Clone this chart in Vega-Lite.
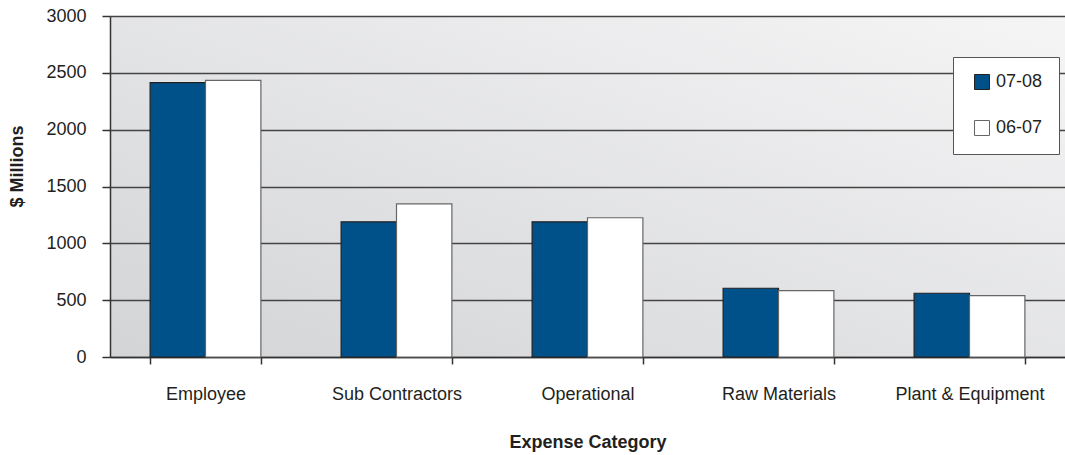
{
  "$schema": "https://vega.github.io/schema/vega-lite/v6.json",
  "width": 955,
  "height": 341,
  "autosize": {"type": "none"},
  "padding": {"left": 110, "top": 16, "right": 0, "bottom": 98},
  "background": "#ffffff",
  "data": {
    "values": [
      {"category": "Employee", "year": "07-08", "amount": 2413},
      {"category": "Employee", "year": "06-07", "amount": 2434},
      {"category": "Sub Contractors", "year": "07-08", "amount": 1189},
      {"category": "Sub Contractors", "year": "06-07", "amount": 1348},
      {"category": "Operational", "year": "07-08", "amount": 1189},
      {"category": "Operational", "year": "06-07", "amount": 1225},
      {"category": "Raw Materials", "year": "07-08", "amount": 605},
      {"category": "Raw Materials", "year": "06-07", "amount": 584},
      {"category": "Plant & Equipment", "year": "07-08", "amount": 561},
      {"category": "Plant & Equipment", "year": "06-07", "amount": 540}
    ]
  },
  "mark": {"type": "bar", "strokeWidth": 1.2},
  "encoding": {
    "x": {
      "field": "category",
      "type": "nominal",
      "sort": ["Employee", "Sub Contractors", "Operational", "Raw Materials", "Plant & Equipment"],
      "scale": {"paddingInner": 0.42, "paddingOuter": 0.21},
      "axis": {
        "title": "Expense Category",
        "labelAngle": 0,
        "tickBand": "extent",
        "tickSize": 7,
        "labelPadding": 21,
        "titlePadding": 30,
        "grid": false
      }
    },
    "xOffset": {"field": "year", "type": "nominal", "sort": ["07-08", "06-07"]},
    "y": {
      "field": "amount",
      "type": "quantitative",
      "scale": {"domain": [0, 3000]},
      "axis": {
        "title": "$ Millions",
        "values": [0, 500, 1000, 1500, 2000, 2500, 3000],
        "format": "d",
        "tickSize": 8,
        "labelPadding": 16,
        "titlePadding": 19,
        "titleY": 150,
        "grid": true
      }
    },
    "color": {
      "field": "year",
      "type": "nominal",
      "sort": ["07-08", "06-07"],
      "scale": {"domain": ["07-08", "06-07"], "range": ["#005189", "#ffffff"]},
      "legend": {
        "title": null,
        "orient": "none",
        "legendX": 843,
        "legendY": 41,
        "symbolType": "square",
        "symbolSize": 225,
        "symbolOffset": 4,
        "symbolStrokeColor": "#333333",
        "symbolStrokeWidth": 1,
        "labelFontSize": 18,
        "labelOffset": 5,
        "labelColor": "#231f20",
        "labelFont": "Liberation Sans",
        "rowPadding": 26,
        "padding": 16,
        "fillColor": "#ffffff",
        "strokeColor": "#555555",
        "cornerRadius": 0
      }
    },
    "stroke": {
      "field": "year",
      "type": "nominal",
      "scale": {"domain": ["07-08", "06-07"], "range": ["#222222", "#666666"]},
      "legend": null
    }
  },
  "config": {
    "font": "Liberation Sans",
    "view": {
      "stroke": null,
      "fill": {
        "gradient": "linear",
        "x1": 0, "y1": 1, "x2": 1, "y2": 0,
        "stops": [
          {"offset": 0, "color": "#d3d4d6"},
          {"offset": 1, "color": "#f5f5f6"}
        ]
      }
    },
    "axis": {
      "domainColor": "#333333",
      "domainWidth": 1.5,
      "tickColor": "#333333",
      "tickWidth": 1.5,
      "gridColor": "#444444",
      "gridWidth": 1.5,
      "gridOpacity": 1,
      "labelFontSize": 18,
      "labelColor": "#231f20",
      "labelFont": "Liberation Sans",
      "titleFont": "Liberation Sans",
      "titleFontSize": 18,
      "titleFontWeight": "bold",
      "titleColor": "#231f20"
    }
  }
}
